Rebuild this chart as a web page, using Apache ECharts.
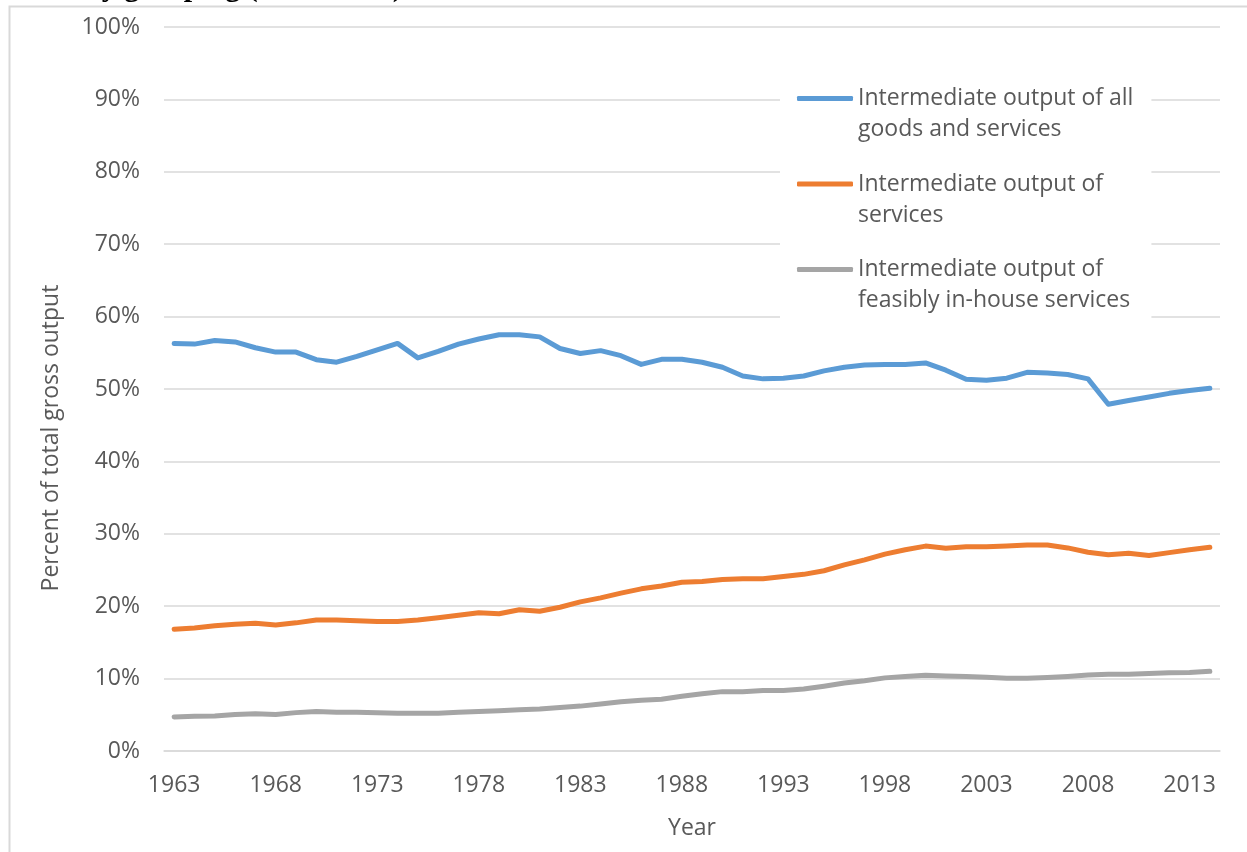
<!DOCTYPE html>
<html>
<head>
<meta charset="utf-8">
<title>Intermediate output share</title>
<script src="https://cdn.jsdelivr.net/npm/echarts@6/dist/echarts.min.js"></script>
<style>
    html, body { margin: 0; padding: 0; background: #fff; }
    .Output { width: 1247px; height: 852px; }
</style>
</head>
<body>
<div class="Output"></div>
<script>
// 数据
var years = [];
for (var y = 1963; y <= 2014; y++) { years.push(String(y)); }
var seriesNames = [
    'Intermediate output of all\ngoods and services',
    'Intermediate output of\nservices',
    'Intermediate output of\nfeasibly in-house services'
];
var allGoods = [56.3, 56.2, 56.7, 56.5, 55.7, 55.1, 55.1, 54.05, 53.7, 54.5,
    55.4, 56.3, 54.3, 55.2, 56.2, 56.9, 57.5, 57.5, 57.2, 55.6,
    54.9, 55.3, 54.6, 53.4, 54.1, 54.1, 53.7, 53.0, 51.8, 51.4,
    51.5, 51.8, 52.5, 53.0, 53.3, 53.4, 53.4, 53.6, 52.6, 51.35,
    51.2, 51.5, 52.3, 52.2, 52.0, 51.4, 47.9, 48.4, 48.9, 49.4,
    49.8, 50.1];
var services = [16.8, 17.0, 17.3, 17.5, 17.65, 17.4, 17.7, 18.1, 18.1, 18.0,
    17.9, 17.9, 18.1, 18.4, 18.75, 19.1, 18.95, 19.5, 19.3, 19.85,
    20.6, 21.15, 21.8, 22.4, 22.8, 23.3, 23.4, 23.7, 23.8, 23.8,
    24.1, 24.4, 24.9, 25.7, 26.4, 27.2, 27.8, 28.3, 28.0, 28.2,
    28.2, 28.3, 28.45, 28.45, 28.05, 27.45, 27.1, 27.3, 27.0, 27.4,
    27.8, 28.15];
var inHouse = [4.7, 4.8, 4.85, 5.05, 5.15, 5.05, 5.3, 5.45, 5.35, 5.35,
    5.3, 5.2, 5.2, 5.2, 5.35, 5.45, 5.55, 5.7, 5.8, 6.0,
    6.2, 6.5, 6.8, 7.0, 7.15, 7.55, 7.9, 8.2, 8.2, 8.35,
    8.35, 8.55, 8.95, 9.4, 9.7, 10.1, 10.3, 10.45, 10.35, 10.3,
    10.2, 10.05, 10.05, 10.15, 10.3, 10.5, 10.6, 10.6, 10.7, 10.8,
    10.85, 11.0];
var colorList = ['#5B9BD5', '#ED7D31', '#A5A5A5'];

(function () {
    var myChart = echarts.init(document.querySelector(".Output"));
    var textColor = '#595959';
    var gridColor = '#d9d9d9';
    var font = 'Open Sans';

    function lineSeries(name, data, color) {
        return {
            name: name,
            type: 'line',
            data: data,
            symbol: 'none',
            showSymbol: false,
            animation: false,
            lineStyle: { color: color, width: 5, cap: 'round', join: 'round' },
            itemStyle: { color: color }
        };
    }

    var option = {
        backgroundColor: '#fff',
        color: colorList,
        textStyle: { fontFamily: font },
        grid: { left: 164, right: 27, top: 27, bottom: 101 },
        graphic: [{
            // 图表外框
            type: 'rect',
            z: -1,
            shape: { x: 9.5, y: 6.5, width: 1400, height: 1000 },
            style: { fill: 'none', stroke: gridColor, lineWidth: 2 }
        }, {
            // 被截掉的标题
            type: 'text',
            left: 85,
            top: -27,
            style: {
                text: 'by grouping (1963\u20132014)',
                font: 'bold 30px "Liberation Serif"',
                fill: '#000'
            }
        }],
        legend: {
            orient: 'vertical',
            left: 780,
            top: 42,
            padding: [10, 18, 10, 17],
            backgroundColor: '#fff',
            itemGap: -7.5,
            itemWidth: 56,
            itemHeight: 5,
            icon: 'roundRect',
            selectedMode: false,
            // 空行在前, 让图标对齐第一行文字
            formatter: function (name) {
                return ' \n' + name;
            },
            textStyle: {
                color: textColor,
                fontFamily: font,
                fontSize: 23,
                lineHeight: 31
            },
            data: seriesNames
        },
        xAxis: {
            type: 'category',
            data: years,
            boundaryGap: true,
            name: 'Year',
            nameLocation: 'middle',
            nameGap: 66,
            nameTextStyle: { color: textColor, fontSize: 23, fontFamily: font },
            axisLine: { lineStyle: { color: gridColor, width: 1.5 } },
            axisTick: { inside: true, length: 6, interval: 0, lineStyle: { color: gridColor } },
            axisLabel: { interval: 4, color: textColor, fontSize: 23, margin: 23, fontFamily: font }
        },
        yAxis: {
            type: 'value',
            min: 0,
            max: 100,
            interval: 10,
            name: 'Percent of total gross output',
            nameLocation: 'middle',
            nameGap: 101,
            nameTextStyle: { color: textColor, fontSize: 23, fontFamily: font, padding: [0, 98, 0, 0] },
            axisLine: { show: false },
            axisTick: { show: false },
            axisLabel: { formatter: '{value}%', color: textColor, fontSize: 23, margin: 24, fontFamily: font },
            splitLine: { lineStyle: { color: gridColor, width: 1.5 } }
        },
        series: [
            lineSeries(seriesNames[0], allGoods, colorList[0]),
            lineSeries(seriesNames[1], services, colorList[1]),
            lineSeries(seriesNames[2], inHouse, colorList[2])
        ]
    };
    myChart.setOption(option);
    window.addEventListener("resize", function () {
        myChart.resize();
    });
})();
</script>
</body>
</html>
